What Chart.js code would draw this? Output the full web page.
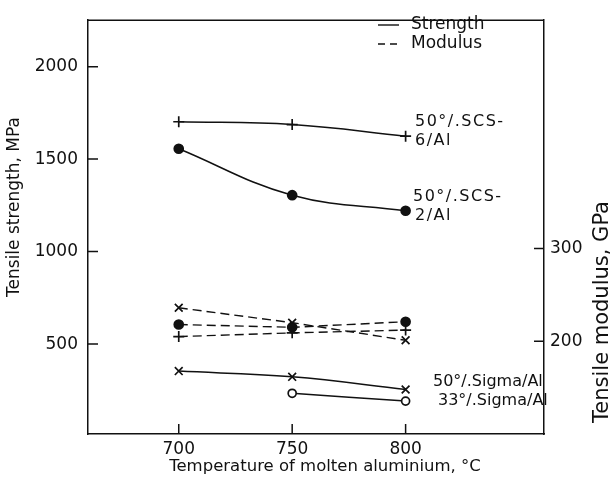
<!DOCTYPE html>
<html>
<head>
<meta charset="utf-8">
<script src="https://cdn.jsdelivr.net/npm/chart.js@4.4.1/dist/chart.umd.min.js"></script>
<style>
  html, body { margin: 0; padding: 0; background: #fff; }
  #wrap { width: 615px; height: 484px; }
</style>
</head>
<body>
<div id="wrap"><canvas id="chart" width="615" height="484"></canvas></div>
<script>
const temps = [700, 750, 800];
const xTicks = [700, 750, 800];
const strengthTicks = [500, 1000, 1500, 2000];
const modulusTicks = [200, 300];

// tensile strength, MPa
const strengthScs6 = [1702, 1687, 1624];
const strengthScs2 = [1556, 1305, 1221];
const strengthSigma50 = [354, 323, 255];
const strengthSigma33 = [null, 234, 192];

// tensile modulus, GPa
const modulusScs6 = [205, 209, 212];
const modulusScs2 = [218, 215, 221];
const modulusSigma50 = [236, 220, 201];

const INK = "#111";
const FONT = "'DejaVu Sans', sans-serif";

function points(values) {
  return temps.map((t, i) => ({ x: t, y: values[i] })).filter((p) => p.y !== null);
}

function series(values, axis, style, dashed) {
  const open = style === "open";
  return {
    data: points(values),
    yAxisID: axis,
    borderColor: INK,
    borderWidth: dashed ? 1.4 : 1.5,
    borderDash: dashed ? [9, 5] : [],
    tension: dashed ? 0 : 0.4,
    pointStyle: open ? "circle" : style,
    pointRadius: style === "circle" ? 4.5 : open ? 4 : 5.5,
    pointBorderWidth: 1.7,
    pointBackgroundColor: open ? "#fff" : INK,
    pointBorderColor: INK,
    fill: false,
  };
}

function fixTicks(values) {
  return (scale) => { scale.ticks = values.map((value) => ({ value })); };
}

const extras = {
  id: "extras",
  afterDraw(chart) {
    const { ctx, chartArea: a, scales } = chart;
    ctx.save();
    ctx.strokeStyle = INK;
    ctx.lineWidth = 1.5;
    ctx.beginPath();
    ctx.moveTo(a.left, a.top);
    ctx.lineTo(a.right, a.top);
    strengthTicks.forEach((v) => {
      const y = scales.y.getPixelForValue(v);
      ctx.moveTo(a.left, y); ctx.lineTo(a.left + 10, y);
    });
    modulusTicks.forEach((v) => {
      const y = scales.y2.getPixelForValue(v);
      ctx.moveTo(a.right, y); ctx.lineTo(a.right - 10, y);
    });
    xTicks.forEach((v) => {
      const x = scales.x.getPixelForValue(v);
      ctx.moveTo(x, a.bottom); ctx.lineTo(x, a.bottom - 10);
    });
    ctx.stroke();

    // legend
    ctx.lineWidth = 1.4;
    ctx.beginPath();
    ctx.moveTo(378, 25); ctx.lineTo(399, 25);
    ctx.stroke();
    ctx.setLineDash([7, 5]);
    ctx.beginPath();
    ctx.moveTo(378, 44); ctx.lineTo(401, 44);
    ctx.stroke();
    ctx.setLineDash([]);

    ctx.fillStyle = INK;
    ctx.textBaseline = "middle";
    ctx.textAlign = "left";
    ctx.font = `17px ${FONT}`;
    ctx.fillText("Strength", 411, 25);
    ctx.fillText("Modulus", 411, 44);

    ctx.font = `16px ${FONT}`;
    ctx.letterSpacing = "1.5px";
    ctx.fillText("50°/.SCS-", 415, 122);
    ctx.fillText("6/Al", 415, 141);
    ctx.fillText("50°/.SCS-", 413, 197);
    ctx.fillText("2/Al", 415, 216);
    ctx.letterSpacing = "0px";
    ctx.fillText("50°/.Sigma/Al", 433, 382);
    ctx.fillText("33°/.Sigma/Al", 438, 401);

    // axis titles
    ctx.textAlign = "center";
    ctx.font = `16.5px ${FONT}`;
    ctx.fillText("Temperature of molten aluminium, °C", 325, 467);
    ctx.save();
    ctx.translate(15, 207);
    ctx.rotate(-Math.PI / 2);
    ctx.font = `17px ${FONT}`;
    ctx.fillText("Tensile strength, MPa", 0, 0);
    ctx.restore();
    ctx.save();
    ctx.translate(603, 312);
    ctx.rotate(-Math.PI / 2);
    ctx.font = `21px ${FONT}`;
    ctx.fillText("Tensile modulus, GPa", 0, 0);
    ctx.restore();
    ctx.restore();
  },
};

const tickFont = { family: FONT, size: 17 };

new Chart(document.getElementById("chart"), {
  type: "line",
  data: {
    datasets: [
      series(strengthScs6, "y", "cross", false),
      series(strengthScs2, "y", "circle", false),
      series(strengthSigma50, "y", "crossRot", false),
      series(strengthSigma33, "y", "open", false),
      series(modulusScs6, "y2", "cross", true),
      series(modulusScs2, "y2", "circle", true),
      series(modulusSigma50, "y2", "crossRot", true),
    ],
  },
  options: {
    responsive: false,
    animation: false,
    layout: { padding: { top: 6, left: 0, right: 0, bottom: 0 } },
    plugins: { legend: { display: false }, tooltip: { enabled: false } },
    scales: {
      x: {
        type: "linear",
        min: 660,
        max: 861,
        afterBuildTicks: fixTicks(xTicks),
        afterFit: (s) => { s.height = 50; },
        grid: { display: false, drawTicks: false },
        border: { display: true, color: INK, width: 1.5 },
        ticks: { font: tickFont, color: INK, padding: 5, maxRotation: 0, callback: (v) => String(v) },
      },
      y: {
        position: "left",
        min: 14,
        max: 2251,
        afterBuildTicks: fixTicks(strengthTicks),
        afterFit: (s) => { s.width = 88; },
        grid: { display: false, drawTicks: false },
        border: { display: true, color: INK, width: 1.5 },
        ticks: { font: tickFont, color: INK, padding: 10, callback: (v) => String(v) },
      },
      y2: {
        position: "right",
        min: 100,
        max: 546,
        afterBuildTicks: fixTicks(modulusTicks),
        afterFit: (s) => { s.width = 71; },
        grid: { display: false, drawTicks: false },
        border: { display: true, color: INK, width: 1.5 },
        ticks: { font: tickFont, color: INK, padding: 6, callback: (v) => String(v) },
      },
    },
  },
  plugins: [extras],
});
</script>
</body>
</html>
